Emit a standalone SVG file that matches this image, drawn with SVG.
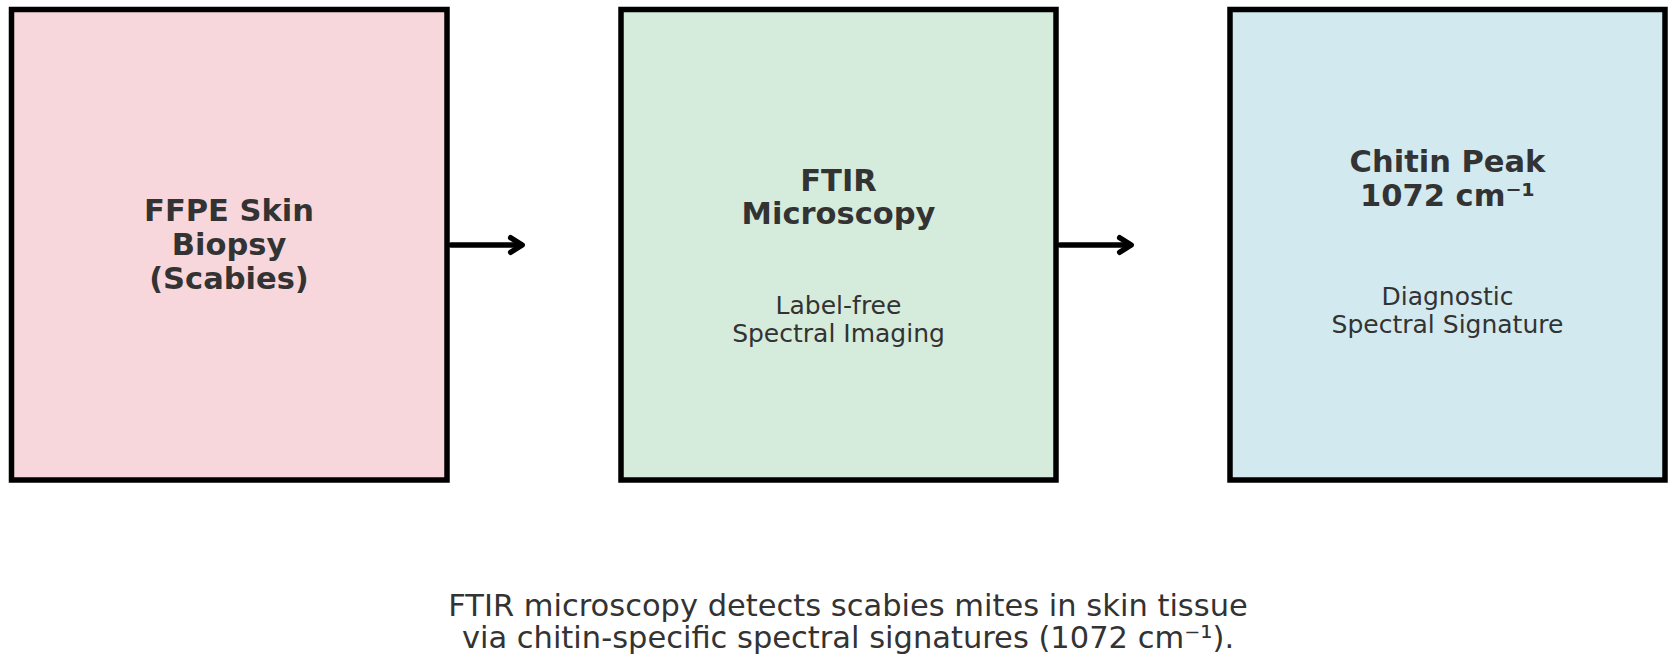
<svg xmlns="http://www.w3.org/2000/svg" width="1678" height="663" viewBox="0 0 1678 663">
<style>
.box{stroke:#000;stroke-width:5.5}
.b{font-family:"DejaVu Sans",sans-serif;font-weight:bold;font-size:30.5px;fill:#333;text-anchor:middle}
.n{font-family:"DejaVu Sans",sans-serif;font-size:25px;fill:#333;text-anchor:middle}
.c{font-family:"DejaVu Sans",sans-serif;font-size:30.5px;fill:#333;text-anchor:middle}
.conn{stroke:#000;stroke-width:5.5;fill:none;stroke-linecap:round;stroke-linejoin:round}
</style>
<rect width="1678" height="663" fill="#fff"/>
<g id="node-biopsy">
<rect class="box" x="11.5" y="9.5" width="435.5" height="470.5" fill="#f7d7db"/>
<text class="b" x="229" y="221">FFPE Skin</text>
<text class="b" x="229" y="255">Biopsy</text>
<text class="b" x="229" y="289">(Scabies)</text>
</g>
<g id="node-ftir">
<rect class="box" x="621" y="9.5" width="435" height="470.5" fill="#d5ecdd"/>
<text class="b" x="838.5" y="191">FTIR</text>
<text class="b" x="838.5" y="224">Microscopy</text>
<text class="n" x="838.5" y="314">Label-free</text>
<text class="n" x="838.5" y="342">Spectral Imaging</text>
</g>
<g id="node-chitin">
<rect class="box" x="1230" y="9.5" width="435" height="470.5" fill="#d2eaef"/>
<text class="b" x="1447.5" y="172">Chitin Peak</text>
<text class="b" x="1447.5" y="206">1072 cm⁻¹</text>
<text class="n" x="1447.5" y="305">Diagnostic</text>
<text class="n" x="1447.5" y="333">Spectral Signature</text>
</g>
<g id="connectors">
<line class="conn" x1="451" y1="245" x2="521" y2="245"/>
<polyline class="conn" points="510.7,237.7 522.2,245 510.7,252.3"/>
<line class="conn" x1="1060" y1="245" x2="1130" y2="245"/>
<polyline class="conn" points="1119.7,237.7 1131.2,245 1119.7,252.3"/>
</g>
<g id="caption">
<text class="c" x="848" y="616">FTIR microscopy detects scabies mites in skin tissue</text>
<text class="c" x="848" y="648">via chitin-specific spectral signatures (1072 cm⁻¹).</text>
</g>
</svg>
